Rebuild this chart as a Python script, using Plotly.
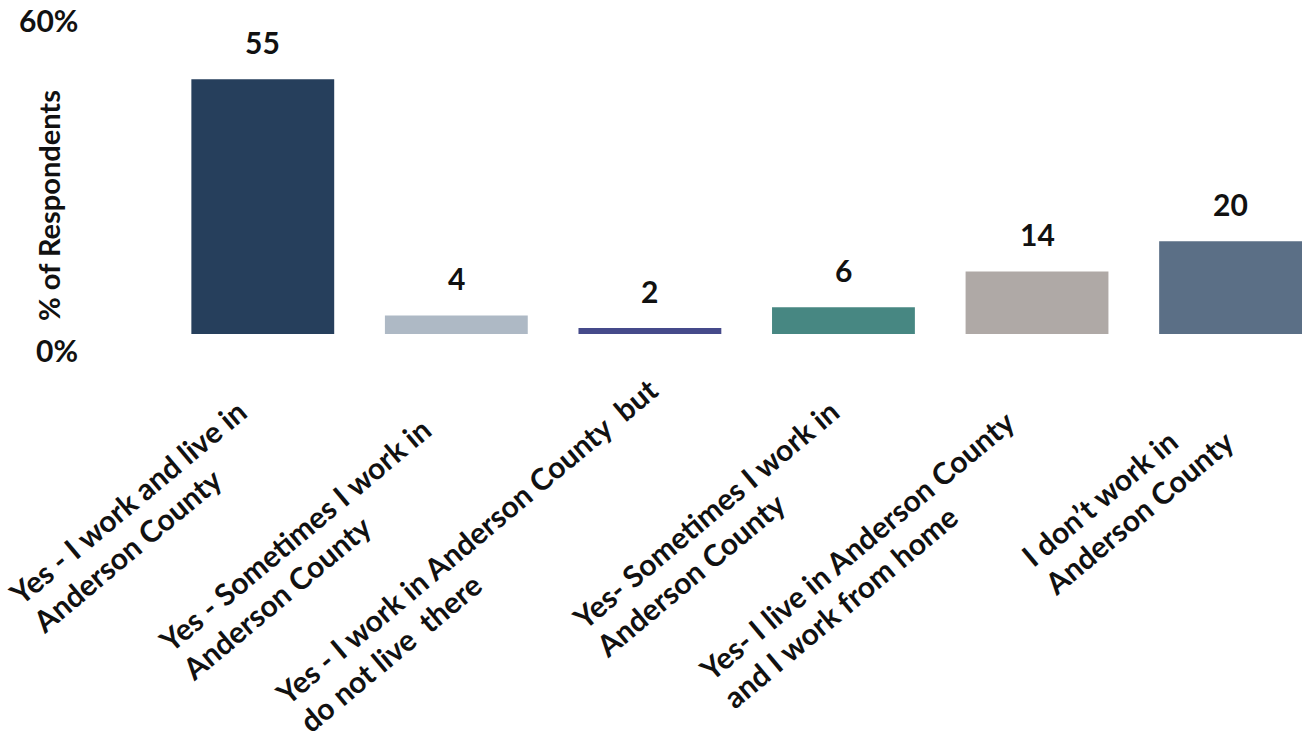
import plotly.graph_objects as go

categories = [
    ["Yes - I work and live in", "Anderson County"],
    ["Yes - Sometimes I work in", "Anderson County"],
    ["Yes - I work in Anderson County  but", "do not live  there"],
    ["Yes- Sometimes I work in", "Anderson County"],
    ["Yes- I live in Anderson County", "and I work from home"],
    ["I don\u2019t work in", "Anderson County"],
]
values = [55, 4, 1.3, 5.8, 13.5, 20]
value_labels = ["55", "4", "2", "6", "14", "20"]
colors = ["#263F5C", "#AEB9C5", "#454A8A", "#478782", "#AFA9A6", "#5B6F86"]
y_tick_labels = ["0%", "60%"]
y_title = "% of Respondents"

# per-label pixel nudges of the rotated category texts (style only)
label_nudge = [(0, 0), (-10, 18), (24, -22), (12, 0), (-6, 10), (-4, 2)]

FONT = "Lato"
TXT = "#111111"
x_idx = list(range(len(categories)))

fig = go.Figure()
fig.add_trace(go.Bar(
    x=x_idx, y=values, marker=dict(color=colors, line=dict(width=0)),
    width=0.738, hoverinfo="skip", showlegend=False,
))

ann = []
# value labels
for i, (v, t) in enumerate(zip(values, value_labels)):
    ann.append(dict(x=i, y=v, xref="x", yref="y", text="<b>%s</b>" % t,
                    showarrow=False, xanchor="center", yanchor="bottom",
                    yshift=17, font=dict(family=FONT, size=30, color=TXT)))
# category labels (line spacing from base font, glyphs from inner span)
for i, lines in enumerate(categories):
    txt = "<br>".join("<span style='font-size:30px'><b>%s</b></span>" % ln for ln in lines)
    dx, dy = label_nudge[i]
    ann.append(dict(x=i, y=0, xref="x", yref="y", text=txt,
                    showarrow=False, xanchor="right", yanchor="top",
                    textangle=-40, align="left", xshift=16 + dx, yshift=-56 - dy,
                    font=dict(family=FONT, size=28, color=TXT)))
# y tick labels
ann.append(dict(x=0, y=0, xref="paper", yref="y", text="<b>%s</b>" % y_tick_labels[0],
                showarrow=False, xanchor="right", yanchor="middle", xshift=-86, yshift=-16,
                font=dict(family=FONT, size=30, color=TXT)))
ann.append(dict(x=0, y=60, xref="paper", yref="y", text="<b>%s</b>" % y_tick_labels[1],
                showarrow=False, xanchor="right", yanchor="middle", xshift=-86, yshift=36,
                font=dict(family=FONT, size=30, color=TXT)))
# y title
ann.append(dict(x=0, y=0.46, xref="paper", yref="paper", text="<b>%s</b>" % y_title,
                showarrow=False, xanchor="center", yanchor="middle", xshift=-118,
                textangle=-90, font=dict(family=FONT, size=29, color=TXT)))

fig.update_layout(
    width=1302, height=740,
    margin=dict(l=166, r=0, t=56, b=406),
    paper_bgcolor="white", plot_bgcolor="white",
    xaxis=dict(range=[-0.5, 5.369], showticklabels=False, showgrid=False,
               zeroline=False, showline=False, ticks=""),
    yaxis=dict(range=[0, 60], showticklabels=False, showgrid=False,
               zeroline=False, showline=False, ticks=""),
    annotations=ann,
    bargap=0.26,
)
fig.write_html("out.html", config={"displayModeBar": False},
               post_script="document.body.style.margin='0';document.body.style.overflow='hidden';")
